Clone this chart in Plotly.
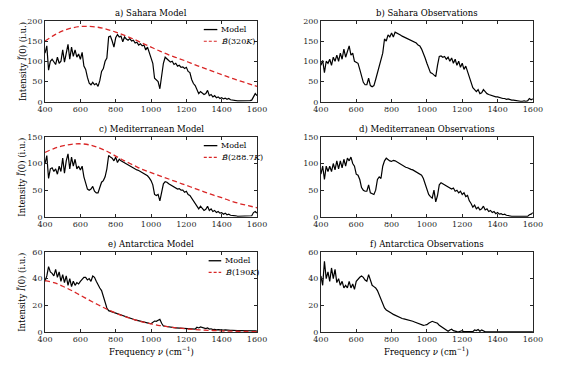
import plotly.graph_objects as go

freq = list(range(400, 1601, 10))
freq_b = list(range(400, 1601, 50))

sahara_model = [
    120, 138, 78, 100, 105, 98, 92, 110, 95, 100,
    128, 98, 125, 142, 105, 135, 112, 128, 110, 118,
    105, 122, 88, 80, 60, 46, 42, 48, 42, 45,
    38, 52, 75, 82, 100, 108, 160, 162, 150, 135,
    158, 166, 160, 162, 148, 160, 155, 152, 156, 150,
    152, 145, 147, 140, 143, 138, 140, 128, 135, 120,
    105, 95, 58, 55, 50, 32, 62, 95, 110, 105,
    102, 98, 100, 92, 95, 88, 90, 85, 86, 82,
    85, 75, 72, 55, 45, 40, 30, 20, 25, 22,
    18, 20, 28, 15, 18, 12, 15, 10, 12, 8,
    10, 7, 9, 6, 8, 5, 4, 3, 3, 2,
    2, 2, 2, 2, 3, 2, 3, 4, 12, 20,
    15]
sahara_b = [150, 164, 175, 182, 186, 186, 184, 179, 172, 164, 155, 145, 135,
            125, 116, 108, 100, 91, 83, 75, 67, 59, 52, 45, 38]
sahara_obs = [
    90, 102, 72, 100, 95, 105, 90, 110, 100, 115,
    100, 120, 105, 130, 110, 125, 138, 115, 120, 100,
    98, 95, 80, 65, 48, 42, 42, 58, 40, 37,
    40, 55, 70, 90, 100, 120, 155, 150, 165, 160,
    170, 160, 172, 170, 168, 165, 162, 160, 158, 155,
    153, 150, 150, 147, 145, 140, 138, 130, 120, 108,
    95, 82, 72, 70, 66, 62, 90, 112, 113, 110,
    112, 105, 110, 100, 108, 95, 105, 90, 100, 85,
    95, 80, 88, 75, 60, 45, 35, 30, 25, 30,
    20, 22, 30, 25, 20, 18, 16, 15, 14, 12,
    12, 10, 10, 8, 8, 6, 7, 5, 4, 4,
    3, 2, 2, 1, 1, 2, 1, 2, 8, 5,
    7]

med_model = [
    100, 115, 72, 90, 92, 85, 90, 80, 95, 85,
    110, 82, 105, 118, 90, 112, 95, 108, 90, 95,
    88, 95, 75, 65, 52, 50, 52, 57, 48, 45,
    45, 55, 65, 68, 75, 90, 115, 112, 110, 105,
    112, 102, 108, 105, 103, 101, 99, 97, 95, 93,
    92, 90, 88, 87, 85, 83, 81, 79, 77, 73,
    68, 60, 42, 40, 42, 30, 45, 62, 66, 65,
    62, 60, 58, 57, 55, 52, 53, 50, 50, 46,
    48, 42, 40, 35, 30, 25, 22, 15, 20, 15,
    12, 14, 20, 12, 15, 10, 12, 8, 10, 7,
    8, 5, 7, 4, 5, 3, 3, 2, 2, 1,
    1, 1, 1, 1, 1, 1, 2, 2, 8, 10,
    7]
med_b = [121, 128, 133, 136, 137, 135, 130, 123, 114, 105, 97, 89, 83,
         77, 71, 65, 59, 53, 47, 41, 36, 30, 25, 21, 17]
med_obs = [
    80, 95, 70, 95, 85, 95, 85, 100, 88, 105,
    90, 105, 92, 108, 95, 110, 105, 112, 100, 95,
    80, 78, 70, 55, 50, 48, 48, 60, 45, 44,
    42, 50, 70, 75, 72, 95, 105, 110, 107, 105,
    104, 106, 105, 103, 100, 98, 97, 95, 93, 92,
    90, 89, 88, 86, 85, 83, 80, 78, 72, 62,
    50, 42, 38, 35, 50, 28, 40, 60, 64, 62,
    60, 58, 57, 55, 52, 54, 48, 50, 45, 48,
    42, 45, 38, 40, 30, 25, 18, 22, 15, 18,
    13, 15, 20, 13, 15, 10, 12, 8, 10, 6,
    8, 5, 6, 4, 5, 3, 2, 2, 1, 1,
    1, 1, 2, 1, 2, 1, 2, 1, 4, 5,
    8]

ant_model = [
    38, 42, 49, 45, 44, 42, 47, 41, 45, 38,
    43, 37, 42, 35, 40, 34, 38, 35, 37, 36,
    38, 40, 41, 41, 39, 40, 38, 42, 41, 38,
    35, 33, 31, 27, 22, 18, 16, 15.5, 15, 14.6,
    14.3, 13.7, 13.1, 12.6, 12.1, 11.7, 11.2, 10.7, 10.3, 9.9,
    9.5, 9.1, 8.7, 8.3, 8.0, 7.6, 7.3, 7.0, 6.7, 6.4,
    6.2, 7.5, 8.2, 8.0, 8.5, 9.5, 6.5, 4.5, 4.3, 4.0,
    3.8, 3.6, 3.4, 3.2, 3.1, 3.0, 2.8, 2.7, 2.5, 2.4,
    2.3, 2.2, 2.1, 2.0, 1.9, 2.2, 3.5, 3.0, 3.8, 3.2,
    3.0, 2.5, 3.0, 2.2, 2.4, 1.8, 2.0, 1.6, 1.8, 1.5,
    1.6, 1.4, 1.5, 1.3, 1.4, 1.2, 1.3, 1.1, 1.2, 1.0,
    1.1, 1.0, 1.0, 0.9, 1.0, 0.9, 0.9, 0.8, 0.8, 0.8,
    0.7]
ant_b = [38.5, 37, 34.3, 31.1, 27.5, 23.9, 20.4, 17.1, 14.2, 11.6, 9.5, 7.6, 6.1,
         4.8, 3.8, 3.0, 2.3, 1.8, 1.4, 1.1, 0.8, 0.6, 0.5, 0.35, 0.27]
ant_obs = [
    42, 35, 53, 40, 45, 38, 48, 40, 47, 37,
    40, 35, 38, 33, 35, 33, 38, 33, 36, 32,
    38, 40, 41, 42, 41, 39, 38, 43, 38, 35,
    34, 33, 31, 28, 25, 21, 18, 16.5, 15.5, 14.5,
    14, 13.2, 12.5, 11.8, 11.2, 10.6, 10.1, 9.8, 9.5, 9.3,
    9, 8.5, 8, 7.5, 7, 6.5, 5.5, 5, 5, 5.2,
    5.5, 6.5, 7.5, 8, 7.5, 7, 6.5, 5, 4, 3,
    2.5, 1.5, 0.5, 1.5, 2, 1, 0.3, 0.2, 0.1, 0.3,
    1.0, 0.2, 0.1, 0.1, 0.1, 0.1, 0.2, 1.5, 1.0, 1.8,
    0.5, 1.5, 0.5, 0.1, 0, 0, 0, 0, 0, 0,
    0, 0, 0, 0, 0, 0, 0, 0, 0, 0,
    0, 0, 0, 0, 0, 0, 0, 0, 0, 0,
    0]

titles = ["a) Sahara Model", "b) Sahara Observations",
          "c) Mediterranean Model", "d) Mediterranean Observations",
          "e) Antarctica Model", "f) Antarctica Observations"]
b_labels = ["<i>B\u0303</i>(320<i>K</i>)", "<i>B\u0303</i>(288.7<i>K</i>)",
            "<i>B\u0303</i>(190<i>K</i>)"]
y_ranges = [[0, 200], [0, 150], [0, 60]]
y_ticks = [[0, 50, 100, 150, 200], [0, 50, 100, 150], [0, 20, 40, 60]]
x_ticks = [400, 600, 800, 1000, 1200, 1400, 1600]

# page body has an 8px margin; figure is sized so it ends at the window edge
OFF = 8
W, H = 570 - OFF, 375 - OFF
FONT = "DejaVu Serif"
AX = "#262626"
RED = "#d92626"


def fx(p):
    return (p - OFF) / W


def fy(p):
    return 1 - (p - OFF) / H


col_px = [(38, 257), (323, 542)]
row_px = [(17, 100), (136, 218), (254, 336)]
legend_px = [(202, 218), (202, 218), (207, 222)]

models = [sahara_model, med_model, ant_model]
bs = [sahara_b, med_b, ant_b]
obs = [sahara_obs, med_obs, ant_obs]

fig = go.Figure()
layout = dict(
    width=W, height=H, margin=dict(l=0, r=0, t=0, b=0),
    paper_bgcolor="white", plot_bgcolor="white",
    font=dict(family=FONT, size=8, color=AX),
    showlegend=False,
    annotations=[], shapes=[],
)

for r in range(3):
    for c in range(2):
        k = r * 2 + c + 1
        xa = "x" if k == 1 else f"x{k}"
        ya = "y" if k == 1 else f"y{k}"
        x0, x1 = col_px[c]
        y0, y1 = row_px[r]
        common = dict(showline=True, linecolor=AX, linewidth=0.8, mirror="allticks",
                      ticks="inside", ticklen=3, tickwidth=0.8, tickcolor=AX,
                      showgrid=False, zeroline=False,
                      tickfont=dict(family=FONT, size=8, color=AX))
        layout["xaxis" if k == 1 else f"xaxis{k}"] = dict(
            domain=[fx(x0), fx(x1)], range=[400, 1600], tickvals=x_ticks,
            anchor=ya, **common)
        layout["yaxis" if k == 1 else f"yaxis{k}"] = dict(
            domain=[fy(y1), fy(y0)], range=y_ranges[r], tickvals=y_ticks[r],
            anchor=xa, **common)
        layout["annotations"].append(dict(
            text=titles[k - 1], xref="paper", yref="paper",
            x=fx((x0 + x1) / 2), y=fy(y0 - 8), xanchor="center", yanchor="middle",
            showarrow=False, font=dict(family=FONT, size=8.5, color="black")))
        if c == 0:
            fig.add_trace(go.Scatter(
                x=freq, y=models[r], mode="lines", name="Model",
                line=dict(color="black", width=1.2), xaxis=xa, yaxis=ya))
            fig.add_trace(go.Scatter(
                x=freq_b, y=bs[r], mode="lines", name=b_labels[r],
                line=dict(color=RED, width=1.3, dash="5px,3px", shape="spline", smoothing=1.0),
                xaxis=xa, yaxis=ya))
            lx0, ltx = legend_px[r]
            for i, (lab, col, dash) in enumerate([("Model", "black", "solid"),
                                                  (b_labels[r], RED, "3px,2px")]):
                ly = y0 + 9 + 12 * i
                layout["shapes"].append(dict(
                    type="line", xref="paper", yref="paper",
                    x0=fx(lx0), x1=fx(ltx - 2), y0=fy(ly), y1=fy(ly),
                    line=dict(color=col, width=1.3 if i == 0 else 1.2, dash=dash)))
                layout["annotations"].append(dict(
                    text=lab, xref="paper", yref="paper", x=fx(ltx), y=fy(ly),
                    xanchor="left", yanchor="middle", showarrow=False,
                    font=dict(family=FONT, size=8, color="black")))
            layout["annotations"].append(dict(
                text="Intensity <i>I\u0303</i>(0) (i.u.)", xref="paper", yref="paper",
                x=fx(14), y=fy((y0 + y1) / 2), xanchor="center", yanchor="middle",
                textangle=-90, showarrow=False,
                font=dict(family=FONT, size=8.5, color="black")))
        else:
            fig.add_trace(go.Scatter(
                x=freq, y=obs[r], mode="lines", showlegend=False,
                line=dict(color="black", width=1.2), xaxis=xa, yaxis=ya))
        if r == 2:
            layout["annotations"].append(dict(
                text="Frequency <i>\u03bd</i> (cm<sup>\u22121</sup>)", xref="paper", yref="paper",
                x=fx((x0 + x1) / 2), y=fy(356), xanchor="center", yanchor="middle",
                showarrow=False, font=dict(family=FONT, size=8.5, color="black")))

fig.update_layout(**layout)
fig.write_html("out.html")
